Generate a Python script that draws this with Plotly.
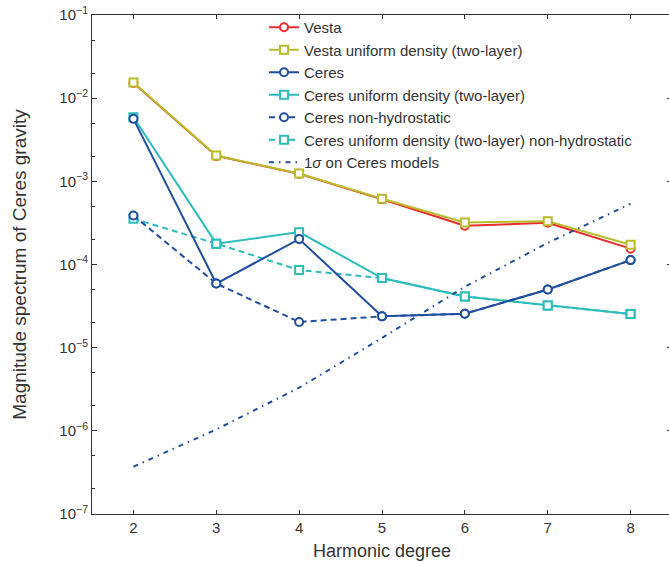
import plotly.graph_objects as go

degree = [2, 3, 4, 5, 6, 7, 8]

vesta = [1.52e-2, 2.02e-3, 1.23e-3, 6.1e-4, 2.92e-4, 3.17e-4, 1.55e-4]
vesta_uniform = [1.54e-2, 2.04e-3, 1.24e-3, 6.17e-4, 3.2e-4, 3.32e-4, 1.73e-4]
ceres = [5.64e-3, 5.9e-5, 2.02e-4, 2.38e-5, 2.56e-5, 5.0e-5, 1.13e-4]
ceres_uniform = [5.9e-3, 1.78e-4, 2.45e-4, 6.87e-5, 4.13e-5, 3.22e-5, 2.54e-5]
ceres_nonhydro = [3.88e-4, 5.9e-5, 2.04e-5, 2.38e-5, 2.56e-5, 5.0e-5, 1.13e-4]
ceres_uniform_nonhydro = [3.55e-4, 1.78e-4, 8.57e-5, 6.87e-5, 4.13e-5, 3.22e-5, 2.54e-5]
sigma_ceres = [3.7e-7, 1.04e-6, 3.3e-6, 1.31e-5, 5.4e-5, 1.82e-4, 5.37e-4]

ytick_vals = [1e-7, 1e-6, 1e-5, 1e-4, 1e-3, 1e-2, 1e-1]
ytick_text = ["10<sup>−7</sup>", "10<sup>−6</sup>", "10<sup>−5</sup>", "10<sup>−4</sup>",
              "10<sup>−3</sup>", "10<sup>−2</sup>", "10<sup>−1</sup>"]

RED = "#ec2b2b"
OLIVE = "#b9bb2b"
BLUE = "#1f4e9f"
CYAN = "#2bbcbc"
TXT = "#333333"


def marker(symbol, color):
    return dict(symbol=symbol, size=8, color="white", line=dict(color=color, width=2))


fig = go.Figure()
fig.add_trace(go.Scatter(x=degree, y=vesta, name="Vesta", mode="lines+markers",
                         line=dict(color=RED, width=2), marker=marker("circle", RED),
                         legendrank=1))
fig.add_trace(go.Scatter(x=degree, y=vesta_uniform, name="Vesta uniform density (two-layer)",
                         mode="lines+markers", line=dict(color=OLIVE, width=2),
                         marker=marker("square", OLIVE), legendrank=2))
fig.add_trace(go.Scatter(x=degree, y=ceres_uniform_nonhydro,
                         name="Ceres uniform density (two-layer) non-hydrostatic",
                         mode="lines+markers", line=dict(color=CYAN, width=2, dash="6px,4px"),
                         marker=marker("square", CYAN), legendrank=6))
fig.add_trace(go.Scatter(x=degree, y=ceres_nonhydro, name="Ceres non-hydrostatic",
                         mode="lines+markers", line=dict(color=BLUE, width=2, dash="6px,4px"),
                         marker=marker("circle", BLUE), legendrank=5))
fig.add_trace(go.Scatter(x=degree, y=ceres_uniform, name="Ceres uniform density (two-layer)",
                         mode="lines+markers", line=dict(color=CYAN, width=2),
                         marker=marker("square", CYAN), legendrank=4))
fig.add_trace(go.Scatter(x=degree, y=ceres, name="Ceres", mode="lines+markers",
                         line=dict(color=BLUE, width=2), marker=marker("circle", BLUE),
                         legendrank=3))
fig.add_trace(go.Scatter(x=degree, y=sigma_ceres, name="1<i>σ</i> on Ceres models", mode="lines",
                         line=dict(color=BLUE, width=2, dash="5px,5px,1.5px,5px"), legendrank=7))

axis_common = dict(showline=True, linecolor=TXT, linewidth=1, mirror="ticks",
                   ticks="inside", tickcolor=TXT, showgrid=False, zeroline=False,
                   automargin=False, ticklabeloverflow="allow",
                   tickfont=dict(size=15, color=TXT))

fig.update_xaxes(range=[1.5, 8.5], tickvals=degree, ticklen=4,
                 title=dict(text="Harmonic degree", font=dict(size=18, color=TXT), standoff=9),
                 **axis_common)
fig.update_yaxes(type="log", range=[-7, -1], tickvals=ytick_vals, ticktext=ytick_text, ticklen=5,
                 minor=dict(ticks="inside", ticklen=3, tickcolor=TXT, showgrid=False),
                 title=dict(text="Magnitude spectrum of Ceres gravity",
                            font=dict(size=19, color=TXT), standoff=27),
                 **axis_common)

fig.update_layout(
    width=672, height=564,
    margin=dict(l=92, r=0, t=15, b=49.5),
    paper_bgcolor="white", plot_bgcolor="white",
    font=dict(family="Liberation Sans, Arial, sans-serif", color=TXT),
    legend=dict(x=0.2966, y=1.008, xanchor="left", yanchor="top", bgcolor="rgba(0,0,0,0)",
                font=dict(size=15, color=TXT), itemwidth=30, tracegroupgap=0),
)

fig.write_html("out.html", config={"displayModeBar": False},
               post_script="document.body.style.margin='0px';")
